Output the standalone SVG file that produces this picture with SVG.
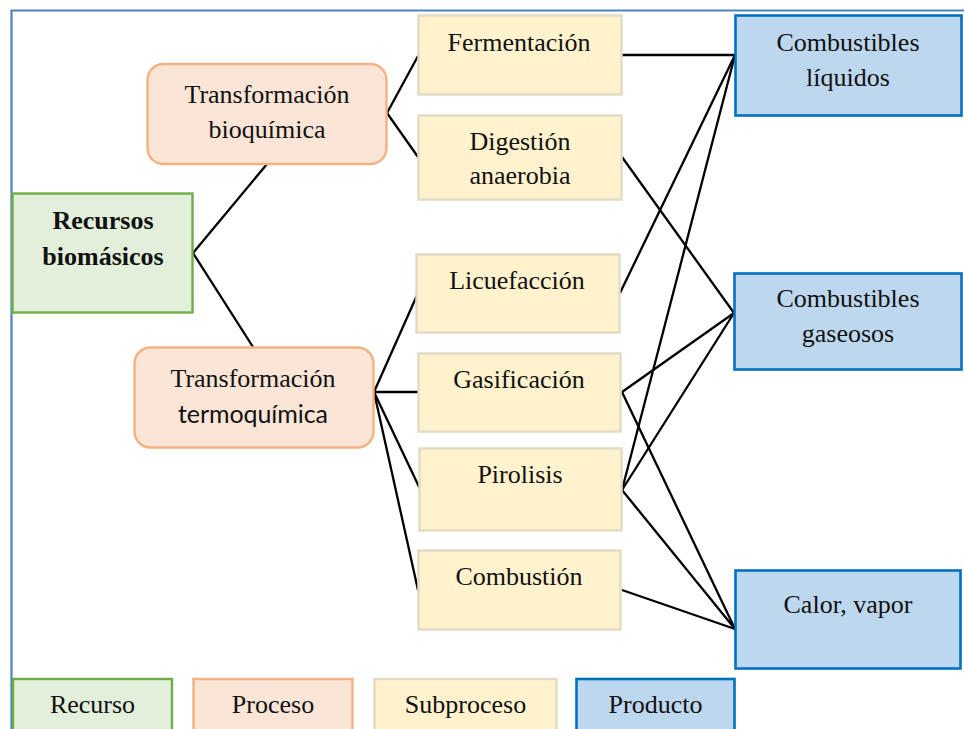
<svg xmlns="http://www.w3.org/2000/svg" width="964" height="729" viewBox="0 0 964 729">
  <style>
    .frame { fill: none; stroke: #4f81bd; stroke-width: 2.2; }
    .rec { fill: #e2efda; stroke: #70ad47; stroke-width: 2.4; }
    .proc { fill: #fbe5d6; stroke: #f4b183; stroke-width: 2.4; }
    .sub { fill: #fff2cc; stroke: #e2dcc3; stroke-width: 2.5; }
    .prod { fill: #bdd7ee; stroke: #0070c0; stroke-width: 2.6; }
    .links line { stroke: #000; stroke-width: 2.3; }
  </style>

  <rect width="964" height="729" fill="#fff"/>

  <!-- page frame (right and bottom edges fall outside the view) -->
  <path class="frame" d="M11.5,740 V10.5 H980"/>

  <!-- connectors -->
  <g id="connectors" class="links">
    <line x1="193" y1="253" x2="267" y2="164"/>
    <line x1="193" y1="253" x2="253" y2="347"/>
    <line x1="387" y1="113" x2="418" y2="56"/>
    <line x1="387" y1="113" x2="418" y2="157"/>
    <line x1="374" y1="392" x2="418" y2="293"/>
    <line x1="374" y1="392" x2="418" y2="392"/>
    <line x1="374" y1="392" x2="421" y2="491"/>
    <line x1="374" y1="392" x2="418" y2="590"/>
    <line x1="622" y1="55" x2="735" y2="55"/>
    <line x1="622" y1="157" x2="734" y2="313"/>
    <line x1="620" y1="293" x2="735" y2="55"/>
    <line x1="622" y1="392" x2="734" y2="313"/>
    <line x1="622" y1="392" x2="735" y2="629"/>
    <line x1="622" y1="490" x2="735" y2="55"/>
    <line x1="622" y1="490" x2="734" y2="313"/>
    <line x1="622" y1="490" x2="735" y2="629"/>
    <line x1="622" y1="590" x2="735" y2="629"/>
  </g>

  <g font-family="Liberation Serif, Times New Roman, serif" font-size="26" fill="#111" text-anchor="middle">
    <!-- resource -->
    <g id="recursos">
      <rect class="rec" x="12.5" y="193.5" width="180" height="119"/>
      <text x="103" y="229" font-weight="bold">Recursos</text>
      <text x="103" y="265" font-weight="bold">biomásicos</text>
    </g>

    <!-- processes -->
    <g id="bioquimica">
      <rect class="proc" x="147.5" y="64" width="239" height="100" rx="16"/>
      <text x="267" y="103">Transformación</text>
      <text x="267" y="138">bioquímica</text>
    </g>
    <g id="termoquimica">
      <rect class="proc" x="134.5" y="347.5" width="239" height="100" rx="16"/>
      <text x="253" y="387">Transformación</text>
      <text x="253" y="423" font-family="Lato, Open Sans, sans-serif" font-size="25" textLength="150">termoquímica</text>
    </g>

    <!-- subprocesses -->
    <g id="fermentacion">
      <rect class="sub" x="418.5" y="15.5" width="203" height="79"/>
      <text x="519" y="51">Fermentación</text>
    </g>
    <g id="digestion">
      <rect class="sub" x="418.5" y="115.5" width="203" height="84"/>
      <text x="520" y="150">Digestión</text>
      <text x="520" y="184">anaerobia</text>
    </g>
    <g id="licuefaccion">
      <rect class="sub" x="416.5" y="254.5" width="203" height="78"/>
      <text x="517" y="289">Licuefacción</text>
    </g>
    <g id="gasificacion">
      <rect class="sub" x="418.5" y="353.5" width="202" height="78"/>
      <text x="519" y="388">Gasificación</text>
    </g>
    <g id="pirolisis">
      <rect class="sub" x="419.5" y="448.5" width="202" height="82"/>
      <text x="520" y="483">Pirolisis</text>
    </g>
    <g id="combustion">
      <rect class="sub" x="418.5" y="550.5" width="202" height="79"/>
      <text x="519" y="585">Combustión</text>
    </g>

    <!-- products -->
    <g id="liquidos">
      <rect class="prod" x="735.5" y="15.5" width="226" height="100"/>
      <text x="848" y="51">Combustibles</text>
      <text x="848" y="86">líquidos</text>
    </g>
    <g id="gaseosos">
      <rect class="prod" x="734.5" y="273.5" width="227" height="96"/>
      <text x="848" y="307">Combustibles</text>
      <text x="848" y="342">gaseosos</text>
    </g>
    <g id="calor">
      <rect class="prod" x="735.5" y="570.5" width="225" height="98"/>
      <text x="848" y="613">Calor, vapor</text>
    </g>

    <!-- legend -->
    <g id="legend-recurso">
      <rect class="rec" x="13" y="679" width="159" height="70"/>
      <text x="92.5" y="713">Recurso</text>
    </g>
    <g id="legend-proceso">
      <rect class="proc" x="193.5" y="679" width="159" height="70"/>
      <text x="273" y="713">Proceso</text>
    </g>
    <g id="legend-subproceso">
      <rect class="sub" x="374.5" y="679" width="182" height="70"/>
      <text x="465.5" y="713">Subproceso</text>
    </g>
    <g id="legend-producto">
      <rect class="prod" x="576.5" y="679" width="158" height="70"/>
      <text x="655.5" y="713">Producto</text>
    </g>
  </g>
</svg>
